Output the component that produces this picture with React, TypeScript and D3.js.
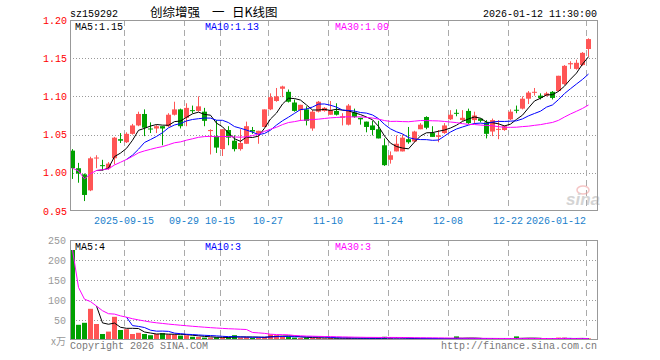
import React from "react";
import * as d3 from "d3";

const dates: string[] = [
  "2025-09-02","2025-09-03","2025-09-04","2025-09-05","2025-09-08","2025-09-09","2025-09-10","2025-09-11","2025-09-12",
  "2025-09-15","2025-09-16","2025-09-17","2025-09-18","2025-09-19","2025-09-22","2025-09-23","2025-09-24","2025-09-25","2025-09-26",
  "2025-09-29","2025-09-30","2025-10-09","2025-10-10","2025-10-13","2025-10-14","2025-10-15","2025-10-16","2025-10-17",
  "2025-10-20","2025-10-21","2025-10-22","2025-10-23","2025-10-24","2025-10-27","2025-10-28","2025-10-29","2025-10-30","2025-10-31",
  "2025-11-03","2025-11-04","2025-11-05","2025-11-06","2025-11-07","2025-11-10","2025-11-11","2025-11-12","2025-11-13","2025-11-14",
  "2025-11-17","2025-11-18","2025-11-19","2025-11-20","2025-11-21","2025-11-24","2025-11-25","2025-11-26","2025-11-27","2025-11-28",
  "2025-12-01","2025-12-02","2025-12-03","2025-12-04","2025-12-05","2025-12-08","2025-12-09","2025-12-10","2025-12-11","2025-12-12",
  "2025-12-15","2025-12-16","2025-12-17","2025-12-18","2025-12-19","2025-12-22","2025-12-23","2025-12-24","2025-12-25","2025-12-26",
  "2025-12-29","2025-12-30","2025-12-31","2026-01-05","2026-01-06","2026-01-07","2026-01-08","2026-01-09","2026-01-12",
];

const open: number[] = [
  1.029, 1.006, 0.998, 0.977, 1.019, 1.010, 1.006, 1.019, 1.044, 1.040,
  1.051, 1.062, 1.077, 1.058, 1.058, 1.061, 1.061, 1.076, 1.083, 1.072,
  1.082, 1.081, 1.080, 1.0546, 1.048, 1.031, 1.056, 1.042, 1.031, 1.038,
  1.056, 1.051, 1.060, 1.083, 1.094, 1.110, 1.106, 1.092, 1.082, 1.083,
  1.058, 1.080, 1.081, 1.076, 1.081, 1.072, 1.063, 1.079, 1.072, 1.067,
  1.062, 1.057, 1.036, 1.017, 1.028, 1.028, 1.044, 1.041, 1.057, 1.073,
  1.052, 1.047, 1.052, 1.070, 1.0785, 1.069, 1.081, 1.069, 1.071, 1.066,
  1.054, 1.0565, 1.056, 1.070, 1.0825, 1.084, 1.097, 1.105, 1.101, 1.101,
  1.106, 1.107, 1.116, 1.142, 1.136, 1.141, 1.162,
];

const high: number[] = [
  1.031, 1.013, 0.999, 1.021, 1.023, 1.017, 1.014, 1.047, 1.052, 1.053,
  1.064, 1.080, 1.083, 1.066, 1.063, 1.061, 1.078, 1.093, 1.084, 1.091,
  1.088, 1.100, 1.085, 1.057, 1.069, 1.057, 1.061, 1.049, 1.057, 1.067,
  1.060, 1.055, 1.083, 1.104, 1.111, 1.114, 1.109, 1.096, 1.089, 1.087,
  1.082, 1.094, 1.086, 1.094, 1.091, 1.078, 1.090, 1.084, 1.072, 1.067,
  1.068, 1.068, 1.045, 1.028, 1.049, 1.050, 1.060, 1.055, 1.065, 1.074,
  1.061, 1.056, 1.065, 1.082, 1.083, 1.082, 1.084, 1.080, 1.071, 1.069,
  1.071, 1.069, 1.062, 1.083, 1.088, 1.100, 1.107, 1.111, 1.104, 1.106,
  1.107, 1.127, 1.141, 1.146, 1.148, 1.158, 1.176,
];

const low: number[] = [
  0.992, 0.987, 0.963, 0.976, 1.006, 1.003, 1.004, 1.011, 1.039, 1.039,
  1.050, 1.061, 1.048, 1.052, 1.052, 1.036, 1.060, 1.075, 1.058, 1.061,
  1.078, 1.080, 1.061, 1.024, 1.026, 1.022, 1.036, 1.028, 1.029, 1.038,
  1.051, 1.038, 1.060, 1.082, 1.093, 1.099, 1.092, 1.080, 1.068, 1.062,
  1.055, 1.079, 1.080, 1.076, 1.075, 1.062, 1.062, 1.072, 1.063, 1.053,
  1.049, 1.045, 1.009, 1.012, 1.028, 1.028, 1.038, 1.040, 1.057, 1.057,
  1.047, 1.040, 1.051, 1.069, 1.074, 1.068, 1.064, 1.064, 1.066, 1.045,
  1.048, 1.044, 1.055, 1.069, 1.078, 1.083, 1.090, 1.101, 1.096, 1.100,
  1.096, 1.106, 1.115, 1.136, 1.135, 1.140, 1.152,
];

const close: number[] = [
  1.006, 0.999, 0.971, 1.019, 1.020, 1.009, 1.012, 1.046, 1.042, 1.051,
  1.062, 1.077, 1.059, 1.057, 1.061, 1.058, 1.076, 1.083, 1.061, 1.085,
  1.081, 1.087, 1.068, 1.056, 1.033, 1.057, 1.046, 1.031, 1.039, 1.061,
  1.054, 1.055, 1.083, 1.099, 1.100, 1.113, 1.093, 1.081, 1.089, 1.068,
  1.080, 1.093, 1.085, 1.082, 1.076, 1.074, 1.088, 1.073, 1.070, 1.060,
  1.056, 1.045, 1.010, 1.023, 1.038, 1.046, 1.040, 1.054, 1.063, 1.059,
  1.047, 1.049, 1.062, 1.076, 1.0775, 1.072, 1.065, 1.075, 1.068, 1.051,
  1.069, 1.0575, 1.061, 1.080, 1.082, 1.097, 1.105, 1.106, 1.098, 1.104,
  1.098, 1.127, 1.140, 1.1435, 1.144, 1.157, 1.175,
];

const volume: number[] = [
  225, 38, 43, 78, 40, 15, 21, 58, 25, 27,
  15, 18, 15, 12, 15, 17, 14, 14, 11, 12,
  8, 8, 6, 6, 7, 6, 7, 12, 6, 7,
  5, 6, 8, 14, 12, 9, 8, 6, 5, 6,
  5, 6, 4, 5, 4, 4, 6, 4, 4, 4,
  5, 5, 8, 5, 4, 4, 3, 2, 2, 3,
  3, 2, 3, 5, 9, 3, 4, 3, 2, 3,
  2, 2, 2, 4, 9, 4, 4, 2, 2, 2,
  2, 6, 6, 3, 2, 3, 4,
];

const priceTicks: number[] = [1.2, 1.15, 1.1, 1.05, 1.0, 0.95];
const volTicks: number[] = [250, 200, 150, 100, 50];
const tickDates: string[] = ["2025-09-15","2025-09-29","2025-10-15","2025-10-27","2025-11-10","2025-11-24","2025-12-08","2025-12-22","2026-01-12"];
const tickLabels: string[] = ["2025-09-15","09-29","10-15","10-27","11-10","11-24","12-08","12-22","2026-01-12"];
const titleParts: string[] = ["创综增强", "一", "日K线图"];

const W = 660, H = 360;
const L = 70, R = 597;
const PT = 20, PB = 211, VT = 240, VB = 340;
const RED = "#ff5555", GREEN = "#00a000";
const MONO = "'Liberation Mono', 'DejaVu Sans Mono', monospace";
const CJK = "'Noto Sans CJK SC', sans-serif";

function movingAvg(arr: number[], n: number, expanding: boolean): (number | null)[] {
  return arr.map((_, i) => {
    if (i < n - 1 && !expanding) return null;
    const s = Math.max(0, i - n + 1);
    return d3.mean(arr.slice(s, i + 1)) as number;
  });
}

export default function App() {
  const N = dates.length;
  const x = d3.scaleLinear().domain([0, N]).range([L, L + 6 * N]);
  const yP = d3.scaleLinear().domain([0.95, 1.2]).range([PB, PT]);
  const yV = d3.scaleLinear().domain([0, 250]).range([VB, VT]);
  const cx = (i: number) => x(i) + 2.5;

  const pMA = [
    { n: 5, color: "#000000", data: movingAvg(close, 5, false) },
    { n: 10, color: "#0000ff", data: movingAvg(close, 10, false) },
    { n: 30, color: "#ff00ff", data: movingAvg(close, 30, true) },
  ];
  const vMA = [
    { n: 5, color: "#000000", data: movingAvg(volume, 5, false) },
    { n: 10, color: "#0000ff", data: movingAvg(volume, 10, false) },
    { n: 30, color: "#ff00ff", data: movingAvg(volume, 30, true) },
  ];

  const lineP = d3.line<number | null>().defined((d) => d != null).x((_, i) => cx(i)).y((d) => yP(d as number));
  const lineV = d3.line<number | null>().defined((d) => d != null).x((_, i) => cx(i)).y((d) => yV(d as number));

  const tickIdx = tickDates.map((d) => dates.indexOf(d));
  const legendX = [75, 205, 335];
  const titleX = [150, 212, 232];
  const crisp = (v: number) => Math.round(v) + 0.5;

  return (
    <div style={{ position: "fixed", left: 0, top: 0 }}>
      <svg width={W} height={H} style={{ display: "block", background: "#fff" }}>
        {/* header */}
        <text x={70} y={16.5} fontFamily={MONO} fontSize={10} fill="#000">sz159292</text>
        {titleParts.map((t, k) => (
          <text key={"tt" + k} x={titleX[k]} y={17} fontFamily={CJK} fontSize={12.5} fill="#000">{t}</text>
        ))}
        <text x={597} y={16.5} textAnchor="end" fontFamily={MONO} fontSize={10} fill="#000">2026-01-12 11:30:00</text>

        {/* price grid */}
        {priceTicks.slice(1, -1).map((t) => (
          <line key={"pg" + t} x1={L} x2={R} y1={crisp(yP(t))} y2={crisp(yP(t))} stroke="#999" strokeDasharray="1,2" />
        ))}
        {tickIdx.map((i, k) => (
          <line key={"pv" + k} x1={x(i) + 0.5} x2={x(i) + 0.5} y1={PT} y2={PB} stroke="#aaa" strokeDasharray="6,4" />
        ))}
        {/* volume grid */}
        {volTicks.slice(1).map((t) => (
          <line key={"vg" + t} x1={L} x2={R} y1={crisp(yV(t))} y2={crisp(yV(t))} stroke="#999" strokeDasharray="1,2" />
        ))}
        {tickIdx.map((i, k) => (
          <line key={"vv" + k} x1={x(i) + 0.5} x2={x(i) + 0.5} y1={VT} y2={VB} stroke="#aaa" strokeDasharray="6,4" />
        ))}

        {/* sina watermark */}
        <g opacity={0.6}>
          <ellipse cx={583} cy={190} rx={6} ry={4} fill="none" stroke="#f0a0a0" strokeWidth={1.5} />
          <text x={566} y={205} fontFamily="'Liberation Sans', sans-serif" fontStyle="italic" fontWeight="bold" fontSize={17} fill="#b8b8b8">sina</text>
        </g>

        {/* candles */}
        {dates.map((d, i) => {
          const up = close[i] >= open[i];
          const c = up ? RED : GREEN;
          const yo = yP(open[i]), yc = yP(close[i]);
          const top = Math.min(yo, yc);
          const h = Math.max(1, Math.abs(yo - yc));
          return (
            <g key={"c" + d}>
              <line x1={x(i) + 2.5} x2={x(i) + 2.5} y1={yP(high[i])} y2={yP(low[i])} stroke={c} strokeWidth={1} />
              <rect x={x(i)} y={top} width={5} height={h} fill={c} />
            </g>
          );
        })}
        {pMA.map((m) => (
          <path key={"pm" + m.n} d={lineP(m.data) || ""} fill="none" stroke={m.color} strokeWidth={1} />
        ))}

        {/* volume bars */}
        {dates.map((d, i) => {
          const up = close[i] >= open[i];
          const yt = yV(volume[i]);
          return <rect key={"v" + d} x={x(i)} y={Math.min(yt, VB - 1.5)} width={5} height={Math.max(1.5, VB - yt)} fill={up ? RED : GREEN} />;
        })}
        {vMA.map((m) => (
          <path key={"vm" + m.n} d={lineV(m.data) || ""} fill="none" stroke={m.color} strokeWidth={1} />
        ))}

        {/* frames */}
        <rect x={70.5} y={20.5} width={527} height={190} fill="none" stroke="#999" />
        <rect x={70.5} y={240.5} width={527} height={99} fill="none" stroke="#999" />

        {/* price axis labels */}
        {priceTicks.map((t) => (
          <text key={"pl" + t} x={67} y={yP(t) + 3.5} textAnchor="end" fontFamily={MONO} fontSize={10} fill="#ff0000">{t.toFixed(2)}</text>
        ))}
        {/* volume axis labels */}
        {volTicks.map((t) => (
          <text key={"vl" + t} x={66} y={yV(t) + 4} textAnchor="end" fontFamily={MONO} fontSize={10} fill="#999">{t}</text>
        ))}
        <text x={66} y={345} textAnchor="end" fontFamily={CJK} fontSize={10} fill="#999">x万</text>

        {/* date labels */}
        {tickIdx.map((i, k) => {
          const gx = x(i);
          const w = tickLabels[k].length * 6;
          const over = gx + w / 2 > R;
          return (
            <text key={"dl" + k} x={gx} y={224} textAnchor={over ? "end" : "middle"} fontFamily={MONO} fontSize={10} fill="#1a7fcc">{tickLabels[k]}</text>
          );
        })}

        {/* legends */}
        {pMA.map((m, k) => (
          <text key={"plg" + m.n} x={legendX[k]} y={30} fontFamily={MONO} fontSize={10} fill={m.color}>{`MA${m.n}:${(m.data[N - 1] as number).toFixed(2)}`}</text>
        ))}
        {vMA.map((m, k) => (
          <text key={"vlg" + m.n} x={legendX[k]} y={250} fontFamily={MONO} fontSize={10} fill={m.color}>{`MA${m.n}:${Math.round(m.data[N - 1] as number)}`}</text>
        ))}

        {/* footer */}
        <text x={70} y={349} fontFamily={MONO} fontSize={10} fill="#777">Copyright 2026 SINA.COM</text>
        <text x={597} y={349} textAnchor="end" fontFamily={MONO} fontSize={10} fill="#777">http://finance.sina.com.cn</text>
      </svg>
    </div>
  );
}
